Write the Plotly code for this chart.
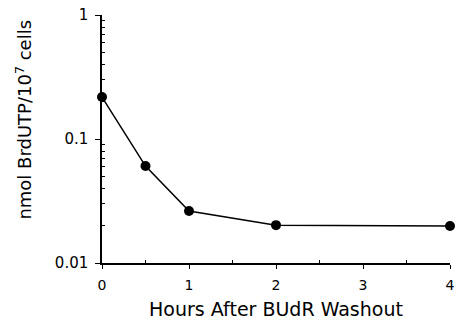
import plotly.graph_objects as go

hours = [0, 0.5, 1, 2, 4]
brdutp = [0.218, 0.0605, 0.0263, 0.0202, 0.0199]
x_ticks = [0, 1, 2, 3, 4]
x_labels = ["0", "1", "2", "3", "4"]
x_minor = [0.5, 1.5, 2.5, 3.5]
y_ticks = [0.01, 0.1, 1]
y_labels = ["0.01", "0.1", "1"]
y_minor = [0.02, 0.03, 0.04, 0.05, 0.06, 0.07, 0.08, 0.09,
           0.2, 0.3, 0.4, 0.5, 0.6, 0.7, 0.8, 0.9]

FONT = "DejaVu Sans, Liberation Sans, Arial, sans-serif"

fig = go.Figure()
fig.add_trace(go.Scatter(
    x=hours, y=brdutp, mode="lines+markers",
    line=dict(color="black", width=1.5),
    marker=dict(color="black", size=10),
    showlegend=False, cliponaxis=False,
))

fig.update_layout(
    width=460, height=328,
    margin=dict(l=102, r=5, t=15, b=65),
    paper_bgcolor="white", plot_bgcolor="white",
    font=dict(family=FONT, color="black", size=14),
)
fig.update_xaxes(
    range=[0, 4], tickvals=x_ticks, ticktext=x_labels,
    showline=True, linecolor="black", linewidth=1.5,
    ticks="outside", ticklen=4, tickwidth=1.2, tickcolor="black",
    minor=dict(tickvals=x_minor, ticks="inside", ticklen=3, tickwidth=1.2,
               tickcolor="black", showgrid=False),
    showgrid=False, zeroline=False, ticklabelstandoff=4,
    title=dict(text="Hours After BUdR Washout", font=dict(size=19), standoff=11),
    tickfont=dict(size=14),
)
fig.update_yaxes(
    type="log", range=[-2, 0], tickvals=y_ticks, ticktext=y_labels,
    showline=True, linecolor="black", linewidth=1.5,
    ticks="outside", ticklen=5, tickwidth=1.2, tickcolor="black",
    minor=dict(tickvals=y_minor, ticks="inside", ticklen=3, tickwidth=1,
               tickcolor="black", showgrid=False),
    showgrid=False, zeroline=False, ticklabelstandoff=4,
    tickfont=dict(size=15),
)
fig.add_annotation(
    text="nmol BrdUTP/10<sup>7</sup> cells", textangle=-90,
    xref="paper", yref="paper", x=-0.225, y=0.577,
    xanchor="center", yanchor="middle", showarrow=False,
    font=dict(size=18),
)

fig.write_html("out.html")
